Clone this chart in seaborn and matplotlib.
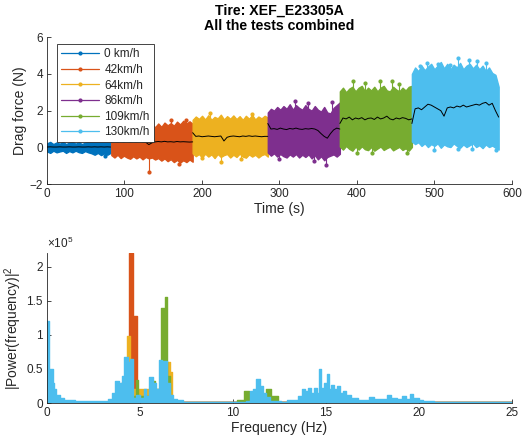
import numpy as np
import matplotlib
matplotlib.use("Agg")
import matplotlib.pyplot as plt
from matplotlib.lines import Line2D
from matplotlib.ticker import FormatStrFormatter
import seaborn as sns

# ---------------------------------------------------------------- data
speed_labels = ["0 km/h", "42km/h", "64km/h", "86km/h", "109km/h", "130km/h"]
speed_colors = ["#0072BD", "#D95319", "#EDB120", "#7E2F8E", "#77AC30", "#4DBEEE"]

# time span of every test (s)
seg_start = [0, 83, 188, 285, 378, 471]
seg_end = [82, 188, 285, 378, 471, 583]

# upper / lower envelope of the raw drag signal (N) and its running mean
blue_hi = [0.22, 0.3, 0.18, 0.27, 0.2, 0.3, 0.18, 0.26, 0.3, 0.2, 0.28, 0.18, 0.26, 0.3, 0.34, 0.45, 0.36, 0.47, 0.38, 0.45, 0.34]
blue_lo = [-0.22, -0.3, -0.18, -0.27, -0.22, -0.18, -0.3, -0.2, -0.27, -0.18, -0.26, -0.3, -0.2, -0.27, -0.32, -0.4, -0.3, -0.42, -0.33, -0.4, -0.3]
blue_mean = [0.02, 0.03, 0.02, 0.02, 0.03, 0.02, 0.02, 0.03, 0.02, 0.02, 0.03, 0.02, 0.02, 0.03, 0.02, 0.03, 0.02, 0.03, 0.02, 0.03, 0.02]

orange_hi = [0.9, 1.05, 0.95, 1.1, 1.0, 1.15, 1.0, 1.12, 1.02, 1.2, 1.05, 1.15, 1.08, 1.22, 1.1, 1.3, 1.12, 1.35, 1.2, 1.32, 1.18, 1.4, 1.25, 1.45, 1.3, 1.42, 1.28]
orange_lo = [-0.42, -0.55, -0.4, -0.58, -0.45, -0.55, -0.62, -0.48, -0.6, -0.5, -0.65, -0.52, -0.6, -0.55, -0.66, -0.58, -0.72, -0.6, -0.75, -0.64, -0.8, -0.68, -0.82, -0.7, -0.8, -0.66, -0.78]
orange_mean = [0.28, 0.32, 0.3, 0.33, 0.3, 0.34, 0.3, 0.32, 0.3, 0.33, 0.3, 0.28, 0.15, 0.25, 0.3, 0.32, 0.3, 0.33, 0.3, 0.31, 0.29, 0.32, 0.3, 0.31, 0.3, 0.29, 0.3]

yellow_hi = [1.5, 1.68, 1.55, 1.72, 1.52, 1.75, 1.5, 1.66, 1.58, 1.78, 1.52, 1.7, 1.56, 1.74, 1.54, 1.7, 1.5, 1.72, 1.56, 1.76, 1.52, 1.68, 1.58, 1.72, 1.62]
yellow_lo = [-0.32, -0.48, -0.36, -0.55, -0.34, -0.5, -0.38, -0.58, -0.36, -0.52, -0.42, -0.36, -0.55, -0.4, -0.52, -0.34, -0.5, -0.56, -0.38, -0.5, -0.4, -0.55, -0.42, -0.36, -0.5]
yellow_mean = [0.8, 0.6, 0.62, 0.58, 0.6, 0.62, 0.6, 0.58, 0.6, 0.62, 0.35, 0.55, 0.6, 0.62, 0.6, 0.58, 0.62, 0.6, 0.63, 0.6, 0.62, 0.6, 0.58, 0.6, 0.6]

purple_hi = [1.9, 2.1, 2.0, 2.2, 2.05, 2.25, 2.1, 2.35, 2.05, 2.3, 2.15, 2.05, 2.3, 2.1, 2.0, 2.25, 2.05, 1.95, 2.2, 1.9, 1.85, 2.15, 2.3, 2.45]
purple_lo = [-0.28, -0.45, -0.32, -0.5, -0.36, -0.48, -0.55, -0.38, -0.5, -0.36, -0.55, -0.4, -0.52, -0.38, -0.6, -0.42, -0.65, -0.48, -0.7, -0.52, -0.45, -0.38, -0.5, -0.35]
purple_mean = [1.3, 1.0, 1.02, 0.98, 1.05, 1.0, 0.97, 1.03, 1.0, 1.05, 1.0, 0.98, 1.02, 1.0, 1.03, 1.0, 0.92, 0.75, 0.6, 0.5, 0.75, 0.95, 1.05, 1.0]

green_hi = [3.05, 3.25, 3.0, 3.2, 3.3, 3.05, 3.25, 3.35, 3.05, 3.25, 3.1, 3.3, 3.05, 3.25, 3.35, 3.1, 3.05, 3.3, 3.15, 3.05, 3.25, 3.1, 3.3, 3.35]
green_lo = [0.05, -0.12, 0.08, -0.08, -0.18, 0.04, -0.12, 0.06, -0.1, -0.15, 0.02, -0.18, -0.06, 0.05, -0.14, -0.04, 0.04, -0.16, -0.06, 0.03, -0.14, -0.05, -0.18, 0.02]
green_mean = [1.3, 1.6, 1.55, 1.65, 1.5, 1.6, 1.55, 1.62, 1.5, 1.58, 1.6, 1.52, 1.65, 1.55, 1.6, 1.7, 1.55, 1.5, 1.6, 1.55, 1.62, 1.58, 1.5, 1.55]

cyan_hi = [4.0, 4.35, 4.15, 4.45, 4.2, 4.4, 4.55, 4.25, 4.45, 4.65, 4.3, 4.55, 4.25, 4.5, 4.35, 4.6, 4.25, 4.45, 4.55, 4.3, 4.5, 4.25, 4.45, 4.15, 4.35, 4.05, 3.95, 3.3]
cyan_lo = [0.32, 0.18, 0.28, 0.08, 0.22, 0.02, 0.18, 0.08, 0.22, -0.02, 0.16, 0.06, 0.02, 0.22, 0.08, -0.02, 0.16, 0.02, 0.12, 0.22, 0.02, 0.12, -0.04, 0.16, 0.02, 0.1, -0.02, -0.12]
cyan_mean = [1.3, 2.1, 2.15, 2.05, 2.2, 2.35, 2.3, 2.2, 2.1, 2.0, 1.7, 2.15, 2.2, 2.15, 2.25, 2.2, 2.3, 2.2, 2.25, 2.3, 2.35, 2.3, 2.4, 2.45, 2.3, 2.4, 2.0, 1.65]

# isolated samples sticking out of each band: (time, force)
blue_spikes = [(60, 0.5), (75, -0.45)]
orange_spikes = [(132, -1.35), (170, -0.9), (160, 1.48), (180, 1.5)]
yellow_spikes = [(225, -0.82), (250, -0.62), (210, 1.85), (265, 1.82), (200, -0.6)]
purple_spikes = [(320, 2.55), (360, -0.95), (345, -0.72), (300, -0.65), (337, 2.4), (368, 2.45)]
green_spikes = [(395, 3.6), (410, 3.5), (430, 3.62), (445, 3.6), (455, 3.45), (420, -0.3),
                (465, -0.32), (400, -0.28)]
cyan_spikes = [(482, 4.45), (490, 4.6), (505, 4.55), (520, 4.5), (530, 4.85), (545, 4.75),
               (555, 4.7), (567, 4.6), (530, -0.08), (580, -0.15), (500, -0.12), (548, -0.1)]

# power spectra, in units of 1e5 ; value k holds from freq[k] to freq[k+1]
blue_freq = [0, 0.1, 0.3, 25]
blue_pow = [0.02, 0.01, 0.005, 0.005]
orange_freq = [0, 4.0, 4.43, 4.61, 4.82, 4.9, 5.0, 25]
orange_pow = [0.01, 0.3, 2.2, 1.28, 0.2, 0.1, 0.01, 0.01]
yellow_freq = [0, 4.2, 4.3, 4.45, 6.35, 6.45, 6.6, 6.7, 25]
yellow_pow = [0.01, 0.3, 0.98, 0.2, 0.3, 0.6, 0.45, 0.01, 0.01]
purple_freq = [0, 4.3, 4.5, 6.1, 6.4, 25]
purple_pow = [0.01, 0.02, 0.01, 0.02, 0.01, 0.01]
green_freq = [0, 4.25, 4.4, 4.8, 4.9, 5.65, 5.8, 6.15, 6.33, 6.48, 6.6, 10.2, 10.6,
              10.85, 11.0, 11.8, 12.05, 12.45, 25]
green_pow = [0.01, 0.54, 0.1, 0.34, 0.1, 0.32, 0.2, 1.4, 1.55, 0.4, 0.01, 0.05, 0.17,
             0.08, 0.05, 0.2, 0.1, 0.01, 0.01]
cyan_freq = [0, 0.1, 0.3, 0.4, 0.5, 0.7, 0.9, 1.5, 3.3, 3.5, 3.65, 3.85, 4.05, 4.15, 4.35,
             4.45, 4.65, 4.8, 5.0, 5.2, 5.35, 5.5, 5.7, 5.85, 6.0, 6.2, 6.45, 6.6, 6.8, 7.0,
             7.3, 10.7, 10.9, 11.1, 11.25, 11.45, 11.6, 11.8, 12.0, 12.6, 12.9, 13.5, 13.7,
             13.85, 14.05, 14.2, 14.35, 14.5, 14.65, 14.75, 14.9, 15.05, 15.15, 15.3, 15.45,
             15.6, 15.75, 15.9, 16.1, 16.35, 16.7, 17.3, 17.6, 18.3, 18.5, 18.8, 19.1, 19.3,
             19.5, 19.7, 20.0, 20.2, 20.8, 21.5, 25]
cyan_pow = [1.2, 0.5, 0.3, 0.2, 0.12, 0.07, 0.04, 0.025, 0.06, 0.15, 0.33, 0.3, 0.4, 0.67,
            0.6, 0.64, 0.08, 0.12, 0.07, 0.2, 0.1, 0.38, 0.3, 0.2, 0.63, 0.62, 0.3, 0.12,
            0.06, 0.04, 0.015, 0.03, 0.17, 0.2, 0.35, 0.25, 0.15, 0.09, 0.03, 0.015, 0.04,
            0.1, 0.2, 0.17, 0.22, 0.14, 0.22, 0.15, 0.5, 0.22, 0.3, 0.42, 0.2, 0.26, 0.2,
            0.25, 0.14, 0.17, 0.12, 0.08, 0.05, 0.09, 0.06, 0.12, 0.08, 0.06, 0.1, 0.06,
            0.13, 0.07, 0.05, 0.03, 0.015, 0.01, 0.01]

x_ticks_time = [0, 100, 200, 300, 400, 500, 600]
y_ticks_force = [-2, 0, 2, 4, 6]
x_ticks_freq = [0, 5, 10, 15, 20, 25]
y_ticks_power = [0, 0.5, 1, 1.5, 2]

# ---------------------------------------------------------------- style
sns.set_theme(style="white")
plt.rcParams["font.family"] = ["Liberation Sans", "DejaVu Sans"]
plt.rcParams["mathtext.fontset"] = "custom"
plt.rcParams["mathtext.rm"] = "Liberation Sans"
plt.rcParams["mathtext.it"] = "Liberation Sans:italic"
INK = "#262626"
TICK_FS = 8.5
LABEL_FS = 10
TITLE_FS = 10.2

fig = plt.figure(figsize=(5.30, 4.48), dpi=100)
ax1 = fig.add_axes([0.0887, 0.589, 0.877, 0.328])
ax2 = fig.add_axes([0.0887, 0.1004, 0.877, 0.335])

# ---------------------------------------------------------------- drag force
bands = [
    (blue_hi, blue_lo, blue_mean, blue_spikes),
    (orange_hi, orange_lo, orange_mean, orange_spikes),
    (yellow_hi, yellow_lo, yellow_mean, yellow_spikes),
    (purple_hi, purple_lo, purple_mean, purple_spikes),
    (green_hi, green_lo, green_mean, green_spikes),
    (cyan_hi, cyan_lo, cyan_mean, cyan_spikes),
]
for (hi, lo, mean, spikes), t0, t1, col in zip(bands, seg_start, seg_end, speed_colors):
    t = np.linspace(t0, t1, len(hi))
    ax1.fill_between(t, lo, hi, color=col, lw=1.0, edgecolor=col, zorder=2)
    for ts, val in spikes:
        base = np.interp(ts, t, mean)
        ax1.plot([ts, ts], [base, val], color=col, lw=0.8, zorder=2)
        ax1.plot([ts], [val], ".", color=col, ms=4, zorder=2)
    sns.lineplot(x=t, y=mean, estimator=None, color="black", lw=0.7, ax=ax1, zorder=3)

ax1.set_xlim(0, 600)
ax1.set_ylim(-2, 6)
ax1.set_xticks(x_ticks_time)
ax1.set_yticks(y_ticks_force)
ax1.set_xlabel("Time (s)", fontsize=LABEL_FS, color=INK, labelpad=1)
ax1.set_ylabel("Drag force (N)", fontsize=LABEL_FS, color=INK, labelpad=2)
ax1.set_title("Tire: XEF_E23305A\nAll the tests combined", fontsize=TITLE_FS,
              fontweight="bold", color="black", pad=5, linespacing=1.1)

handles = [Line2D([0], [0], color=c, lw=0.9, marker=".", ms=4) for c in speed_colors]
leg = ax1.legend(handles, speed_labels, loc="upper left", bbox_to_anchor=(0.0215, 0.952),
                 borderaxespad=0, fontsize=8.5, frameon=True, fancybox=False,
                 edgecolor=INK, framealpha=1, handlelength=3.2, labelspacing=0.3,
                 borderpad=0.36, handletextpad=0.45)
leg.get_frame().set_linewidth(0.6)
leg.set_zorder(10)

# ---------------------------------------------------------------- spectra
spectra = [
    (blue_freq, blue_pow),
    (orange_freq, orange_pow),
    (yellow_freq, yellow_pow),
    (purple_freq, purple_pow),
    (green_freq, green_pow),
    (cyan_freq, cyan_pow),
]
for (f, p), col in zip(spectra, speed_colors):
    ax2.fill_between(f, 0, p, step="post", color=col, lw=0, zorder=2)
    sns.lineplot(x=f, y=p, estimator=None, drawstyle="steps-post", color=col,
                 lw=1.0, ax=ax2, zorder=2)

ax2.set_xlim(0, 25)
ax2.set_ylim(0, 2.2)
ax2.set_xticks(x_ticks_freq)
ax2.set_yticks(y_ticks_power)
ax2.yaxis.set_major_formatter(FormatStrFormatter("%g"))
ax2.set_xlabel("Frequency (Hz)", fontsize=LABEL_FS, color=INK, labelpad=1)
ax2.set_ylabel("|Power(frequency)|$^2$", fontsize=LABEL_FS, color=INK, labelpad=2)
ax2.text(0.0, 1.01, "×10$^5$", transform=ax2.transAxes, fontsize=TICK_FS, color=INK,
         ha="left", va="bottom")

for ax in (ax1, ax2):
    for side in ("top", "right"):
        ax.spines[side].set_visible(False)
    for side in ("left", "bottom"):
        ax.spines[side].set_color(INK)
        ax.spines[side].set_linewidth(0.6)
    ax.tick_params(bottom=True, left=True, direction="in", length=3, width=0.6,
                   colors=INK, labelsize=TICK_FS, pad=3)

fig.savefig("out.png", dpi=100)
